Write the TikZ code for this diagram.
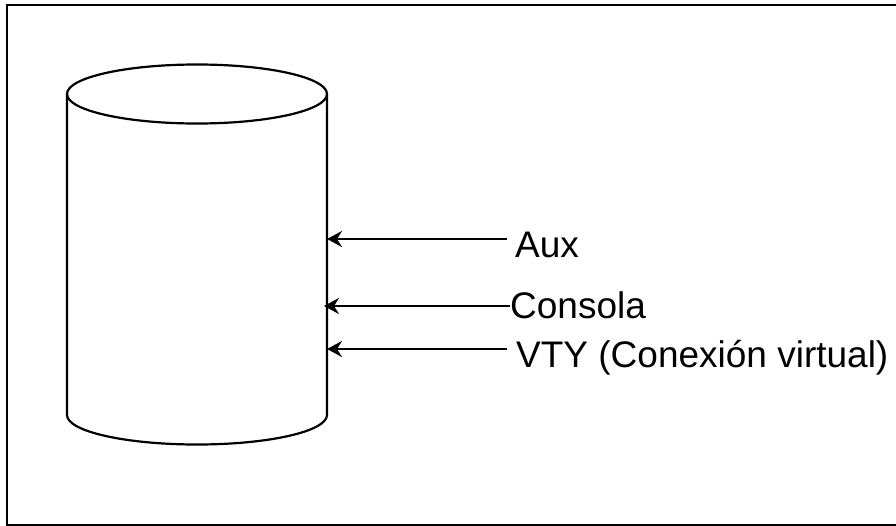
\documentclass[tikz,border=0pt]{standalone}
\usepackage{fontspec}
\setmainfont{Liberation Sans}
\usetikzlibrary{arrows.meta}
\begin{document}
\begin{tikzpicture}[x=1pt,y=-1pt,
  shape line/.style={line width=2.2pt},
  conn/.style={line width=2.2pt,-{Stealth[length=15pt,width=16pt,inset=5pt]}},
  lbl/.style={anchor=base west,inner sep=0pt,font=\fontsize{37}{44}\selectfont}]
\useasboundingbox (0,0) rectangle (896,525);
\clip (0,0) rectangle (896,525);
% frame
\draw[shape line] (7,5) rectangle (915,525.5);
% cylinder
\draw[shape line] (67,94) -- (67,415) arc[start angle=180,end angle=0,x radius=130,y radius=29.5] -- (327,94);
\draw[shape line] (197,94) ellipse [x radius=130, y radius=29.5];
% targets on the cylinder side
\coordinate (tAux) at (327,239);
\coordinate (tCon) at (324,306);
\coordinate (tVty) at (327,349);
% labels
\node[lbl] (aux) at (515,257) {Aux};
\node[lbl] (con) at (510,318) {Consola};
\node[lbl] (vty) at (516,367) {VTY (Conexión virtual)};
% connectors
\coordinate (sAux) at (507,239);
\coordinate (sCon) at (510,306);
\coordinate (sVty) at (507,349);
\draw[conn] (sAux) -- (tAux);
\draw[conn] (sCon) -- (tCon);
\draw[conn] (sVty) -- (tVty);
\end{tikzpicture}
\end{document}
